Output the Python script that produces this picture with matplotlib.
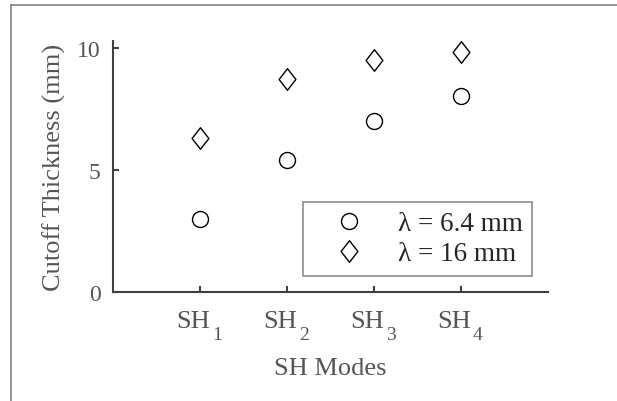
import matplotlib
matplotlib.use('Agg')
import matplotlib.pyplot as plt
from matplotlib.lines import Line2D
from matplotlib.path import Path

plt.rcParams['font.family'] = ['Liberation Serif', 'DejaVu Serif']

# cutoff thickness for each SH mode
modes = [1, 2, 3, 4]
mode_subs = ['1', '2', '3', '4']
thick_64 = [3.0, 5.4, 7.0, 8.0]
thick_16 = [6.3, 8.7, 9.5, 9.8]

W, H = 617, 402
fig = plt.figure(figsize=(W / 100, H / 100), dpi=100)
ax = fig.add_axes([113 / W, 109 / H, 435 / W, 251 / H])

# a diamond a little wider than matplotlib's thin 'd'
diamond = Path([(0, 1), (0.78, 0), (0, -1), (-0.78, 0), (0, 1)],
               [Path.MOVETO, Path.LINETO, Path.LINETO, Path.LINETO, Path.CLOSEPOLY])

ax.plot(modes, thick_64, 'o', ls='none', ms=11.5, mfc='none', mec='black',
        mew=1.0, label='λ = 6.4 mm')
ax.plot(modes, thick_16, marker=diamond, ls='none', ms=15.5, mfc='none',
        mec='black', mew=1.0, label='λ = 16 mm')

ax.set_xlim(0, 5)
ax.set_ylim(0, 10.27)
ax.set_xticks(modes)
ax.set_xticklabels([])
ax.set_yticks([0, 5, 10])

spine_col = '#404040'
text_col = '#555555'
for s in ['top', 'right']:
    ax.spines[s].set_visible(False)
for s in ['left', 'bottom']:
    ax.spines[s].set_color(spine_col)
    ax.spines[s].set_linewidth(1.5)
ax.tick_params(direction='in', length=4, width=1.5, color=spine_col,
               labelcolor=text_col, labelsize=17, pad=9)

# SH labels with a lowered subscript
for m, sub in zip(modes, mode_subs):
    ax.annotate('SH', xy=(m, 0), xycoords=('data', 'axes fraction'),
                xytext=(10, -35), textcoords='offset pixels',
                ha='right', va='baseline', fontsize=19, color=text_col)
    ax.annotate(sub, xy=(m, 0), xycoords=('data', 'axes fraction'),
                xytext=(12, -47), textcoords='offset pixels',
                ha='left', va='baseline', fontsize=14, color=text_col)

ax.set_xlabel('SH Modes', fontsize=19, color=text_col, va='baseline')
ax.xaxis.set_label_coords(0.5, -82 / 251)
ax.set_ylabel('Cutoff Thickness (mm)', fontsize=19, color=text_col,
              va='baseline')
ax.yaxis.set_label_coords(-52 / 435, 0.5)

leg = ax.legend(loc='lower right', bbox_to_anchor=(0.963, 0.064),
                borderaxespad=0, fontsize=19.5, fancybox=False, frameon=True,
                edgecolor='#707070', handlelength=2.7, handletextpad=0.45,
                borderpad=0.35, labelspacing=0.2)
leg.get_frame().set_linewidth(1.2)
for t in leg.get_texts():
    t.set_color('#262626')

# outer border line (top and left edges)
x0 = 11 / W
y0 = 1 - 6 / H
fig.add_artist(Line2D([x0, 1], [y0, y0], transform=fig.transFigure,
                      color='#808080', lw=1.2))
fig.add_artist(Line2D([x0, x0], [0, y0], transform=fig.transFigure,
                      color='#808080', lw=1.2))

fig.savefig('out.png', dpi=100)
